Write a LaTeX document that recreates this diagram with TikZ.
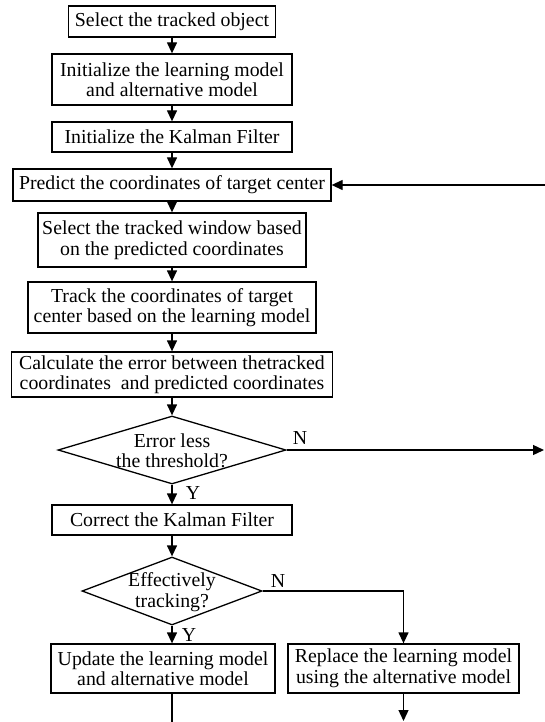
\documentclass[tikz,border=0pt]{standalone}
\usepackage{fontspec}
\setmainfont{Liberation Serif}
\usetikzlibrary{arrows.meta,shapes.geometric}
\begin{document}
\begin{tikzpicture}[x=1pt,y=-1pt,
  box/.style={draw,line width=1.3pt,align=center,inner sep=0pt,font=\fontsize{19.8}{20.5}\selectfont},
  dec/.style={draw,diamond,line width=1.3pt,inner sep=0pt},
  lbl/.style={font=\fontsize{19.8}{20.5}\selectfont,inner sep=0pt,align=center},
  arr/.style={line width=1.3pt,-{Triangle[length=11pt,width=10pt]}},
  ln/.style={line width=1.3pt}]
\useasboundingbox (0,0) rectangle (544,722);
\node[box,minimum width=207pt,minimum height=31pt] (b1) at (172,21.5) {Select the tracked object};
\node[box,minimum width=240pt,minimum height=51pt] (b2) at (172,79.5) {Initialize the learning model\\and alternative model};
\node[box,minimum width=240pt,minimum height=30pt] (b3) at (172,137) {Initialize the Kalman Filter};
\node[box,minimum width=318pt,minimum height=32pt] (b4) at (172,185) {Predict the coordinates of target center};
\node[box,minimum width=268pt,minimum height=54pt] (b5) at (172,240) {Select the tracked window based\\on the predicted coordinates};
\node[box,minimum width=288pt,minimum height=51pt] (b6) at (172,307.5) {Track the coordinates of target\\center based on the learning model};
\node[box,minimum width=321pt,minimum height=45pt] (b7) at (172,374.5) {Calculate the error between thetracked\\coordinates\ \ and predicted coordinates};
\node[dec,minimum width=228pt,minimum height=68pt] (d1) at (172,450) {};
\node[lbl] (d1t) at (172,451) {Error less\\the threshold?};
\node[box,minimum width=240pt,minimum height=30pt] (b8) at (172,520) {Correct the Kalman Filter};
\node[dec,minimum width=180pt,minimum height=68pt] (d2) at (172,591) {};
\node[lbl] (d2t) at (172,592) {Effectively\\tracking?};
\node[box,minimum width=224pt,minimum height=49pt] (b9) at (163,668.5) {Update the learning model\\and alternative model};
\node[box,minimum width=231pt,minimum height=49pt] (b10) at (403.5,668.5) {Replace the learning model\\using the alternative model};
\node[lbl] (n1) at (300,438) {N};
\node[lbl] (y1) at (193,493) {Y};
\node[lbl] (n2) at (278,581) {N};
\node[lbl] (y2) at (189,635) {Y};
\coordinate (loopin) at (545,185);
\coordinate (nout) at (544,450);
\coordinate (bend) at (403.5,591);
\coordinate (end1) at (172,723);
\coordinate (end2) at (403.5,721);
\draw[arr] (b1) -- (b2);
\draw[arr] (b2) -- (b3);
\draw[arr] (b3) -- (b4);
\draw[arr] (b4) -- (b5);
\draw[arr] (b5) -- (b6);
\draw[arr] (b6) -- (b7);
\draw[arr] (b7) -- (d1);
\draw[arr] (d1) -- (b8);
\draw[arr] (b8) -- (d2);
\draw[arr] (d2.south) -- (d2.south |- b9.north);
\draw[arr] (d2.east) -- (bend) -- (b10.north);
\draw[arr] (d1.east) -- (nout);
\draw[arr] (loopin) -- (b4.east);
\draw[ln] (b9.south -| d2.south) -- (end1);
\draw[arr] (b10.south) -- (end2);
\end{tikzpicture}
\end{document}
